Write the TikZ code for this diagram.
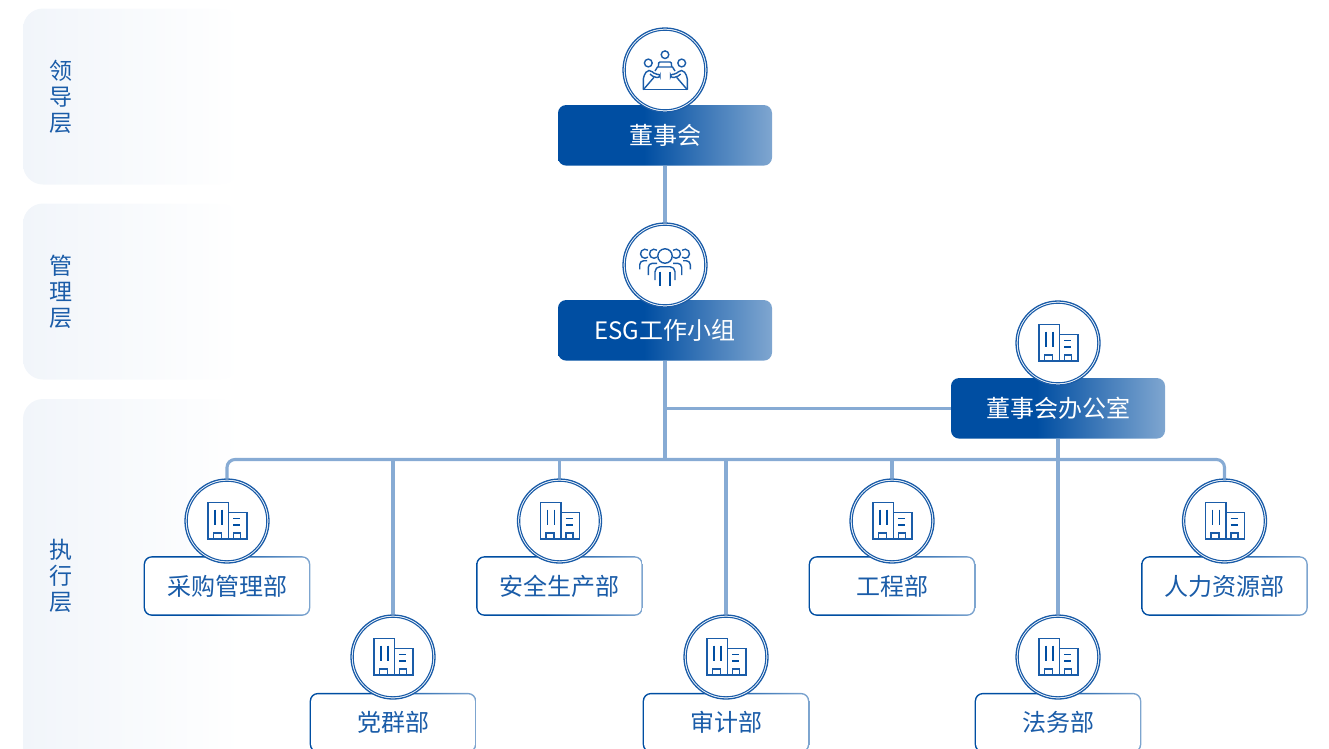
\documentclass[tikz,border=0pt]{standalone}
\usepackage{fontspec}
\setmainfont{Noto Sans CJK SC}
\definecolor{deep}{HTML}{004EA2}
\definecolor{pale}{HTML}{7FA6D0}
\definecolor{wire}{HTML}{87ABD4}
\definecolor{ink}{HTML}{1A5CA8}
\definecolor{panelc}{HTML}{F1F5FA}
\pgfdeclarehorizontalshading{btnshade}{100bp}{color(0bp)=(deep); color(45bp)=(deep); color(75bp)=(pale); color(100bp)=(pale)}
\pgfdeclarehorizontalshading{panelshade}{100bp}{color(0bp)=(panelc); color(25bp)=(panelc); color(75bp)=(white); color(100bp)=(white)}
\newcommand{\lowered}[1]{\raisebox{-0.8pt}{#1}}
\tikzset{
  x=1pt,y=-1pt,
  wireline/.style={draw=wire,line width=3.1pt},
  panel/.style={rectangle,rounded corners=20pt,shading=panelshade,minimum width=218pt,inner sep=0pt},
  sidelabel/.style={text=ink,font=\fontsize{23}{26}\selectfont,align=center,inner sep=0pt},
  btn/.style={rectangle,rounded corners=8pt,shading=btnshade,minimum width=214pt,minimum height=60.5pt,inner sep=0pt,text=white,font=\fontsize{24}{28}\selectfont},
  outerbox/.style={rectangle,rounded corners=8pt,shading=btnshade,minimum width=166.6pt,minimum height=59.6pt,inner sep=0pt},
  innerbox/.style={rectangle,rounded corners=7pt,fill=white,minimum width=163.8pt,minimum height=56.8pt,inner sep=0pt,text=ink,font=\fontsize{24}{28}\selectfont},
  ring/.style={circle,draw=ink,fill=white,line width=1.3pt,minimum size=84pt,inner sep=0pt},
  ringin/.style={circle,draw=ink,line width=1.1pt,minimum size=79.6pt,inner sep=0pt},
  ic/.style={draw=ink,line width=1.4pt},
  icd/.style={draw=deep,line width=1.7pt},
  building/.pic={
    \draw[ic] (-19,18)--(-19,-18.7)--(1.3,-18.7)--(1.3,18)--cycle;
    \draw[ic] (1.3,-8.7)--(20,-8.7)--(20,18)--(1.3,18);
    \draw[ic] (-13.5,18)--(-13.5,12)--(-5.5,12)--(-5.5,18);
    \draw[ic] (6.5,18)--(6.5,12)--(13.5,12)--(13.5,18);
    \draw[icd] (-12,-11.5)--(-12,4);
    \draw[icd] (-5,-11.5)--(-5,4);
    \draw[icd] (6,-2.5)--(13,-2.5);
    \draw[icd] (6,4)--(13,4);
  },
  board/.pic={
    \draw[ic] (0,-15.3) circle (3.8);
    \draw[ic] (-16.7,-7) circle (3.9);
    \draw[ic] (16.7,-7) circle (3.9);
    \draw[ic,rounded corners=1pt] (-6.7,-3) -- (-6.2,-8) -- (6.2,-8) -- (6.7,-3);
    \draw[ic] (-10,1) -- (-7.5,-3) -- (7.5,-3) -- (10,1);
    \draw[ic] (-21.7,19.7) -- (22.3,19.7);
    \draw[ic] (-21.7,19.7) -- (-11,7.3);
    \draw[ic] (22.3,19.7) -- (11.6,7.3);
    \draw[ic,rounded corners=2pt] (-21.7,19.7) -- (-21.7,7) -- (-18,0.5) -- (-14,0.5) -- (-10,4.3) -- (-5,4.3) -- (-5,7.3) -- (-11,7.3) -- (-15,4);
    \draw[ic,rounded corners=2pt] (22.3,19.7) -- (22.3,7) -- (18.6,0.5) -- (14.6,0.5) -- (10.6,4.3) -- (5.6,4.3) -- (5.6,7.3) -- (11.6,7.3) -- (15.6,4);
  },
  team/.pic={
    \draw[ic] (0,-9) circle (7.2);
    \draw[ic] (-11,-11.3) ++(-50:4.5) arc (-50:-310:4.5);
    \draw[ic] (11,-11.3) ++(230:4.5) arc (230:490:4.5);
    \draw[ic] (-20,-11.3) ++(-50:4.5) arc (-50:-310:4.5);
    \draw[ic] (20,-11.3) ++(230:4.5) arc (230:490:4.5);
    \draw[ic,rounded corners=5pt] (-10,15) -- (-10,1.7) -- (10,1.7) -- (10,15);
    \draw[ic,rounded corners=4pt] (-16.7,10) -- (-16.7,-1.7) -- (-8,-1.7);
    \draw[ic,rounded corners=4pt] (16.7,10) -- (16.7,-1.7) -- (8,-1.7);
    \draw[ic,rounded corners=4pt] (-25.3,4.3) -- (-25.3,-4.3) -- (-18,-4.3);
    \draw[ic,rounded corners=4pt] (25.3,4.3) -- (25.3,-4.3) -- (18,-4.3);
    \draw[icd] (-5,6.7) -- (-5,21);
    \draw[icd] (5,6.7) -- (5,21);
  }
}
\begin{document}
\begin{tikzpicture}
\useasboundingbox (0,0) rectangle (1329,748);
\clip (0,0) rectangle (1329,748);
\node[panel,minimum height=176pt] (p1) at (132,96.5) {};
\node[panel,minimum height=176pt] (p2) at (132,291.5) {};
\node[panel,minimum height=400pt] (p3) at (132,599) {};
\node[sidelabel] (l1) at (61,96.7) {领\\导\\层};
\node[sidelabel] (l2) at (61,291.7) {管\\理\\层};
\node[sidelabel] (l3) at (61,575.7) {执\\行\\层};

\foreach \n/\x/\y/\t in {b1/665/135.3/董事会,b2/665/330.3/ESG工作小组,b3/1058/408.3/董事会办公室}{
  \node[btn] (\n) at (\x,\y) {\lowered{\t}};
}
\foreach \n/\x/\y/\t in {d1/227/586/采购管理部,d2/559.5/586/安全生产部,d3/892/586/工程部,d4/1224.5/586/人力资源部,d5/393/722.7/党群部,d6/726/722.7/审计部,d7/1058/722.7/法务部}{
  \node[outerbox] (\n o) at (\x,\y) {};
  \node[innerbox] (\n) at (\x,\y) {\lowered{\t}};
}
\foreach \n/\x/\y/\ic in {c1/665/70/board,c2/665/265/team,c3/1058/343/building,c4/227/521/building,c5/559.5/521/building,c6/892/521/building,c7/1224.5/521/building,c8/393/657/building,c9/726/657/building,c10/1058/657/building}{
  \node[ring] (\n) at (\x,\y) {};
  \node[ringin] (\n i) at (\x,\y) {};
  \pic at (\n) {\ic};
}
\coordinate (bus) at (665,459.5);
\draw[wireline] (b1.south) -- (c2.north);
\draw[wireline] (b2.south) -- (bus);
\draw[wireline] (b3.west) -- (b3.west -| b2.south);
\draw[wireline,rounded corners=8pt] (c4.north) |- (bus) -| (c7.north);
\draw[wireline] (c8.north |- bus) -- (c8.north);
\draw[wireline] (c5.north |- bus) -- (c5.north);
\draw[wireline] (c9.north |- bus) -- (c9.north);
\draw[wireline] (c6.north |- bus) -- (c6.north);
\draw[wireline] (b3.south) -- (c10.north);
\end{tikzpicture}
\end{document}
